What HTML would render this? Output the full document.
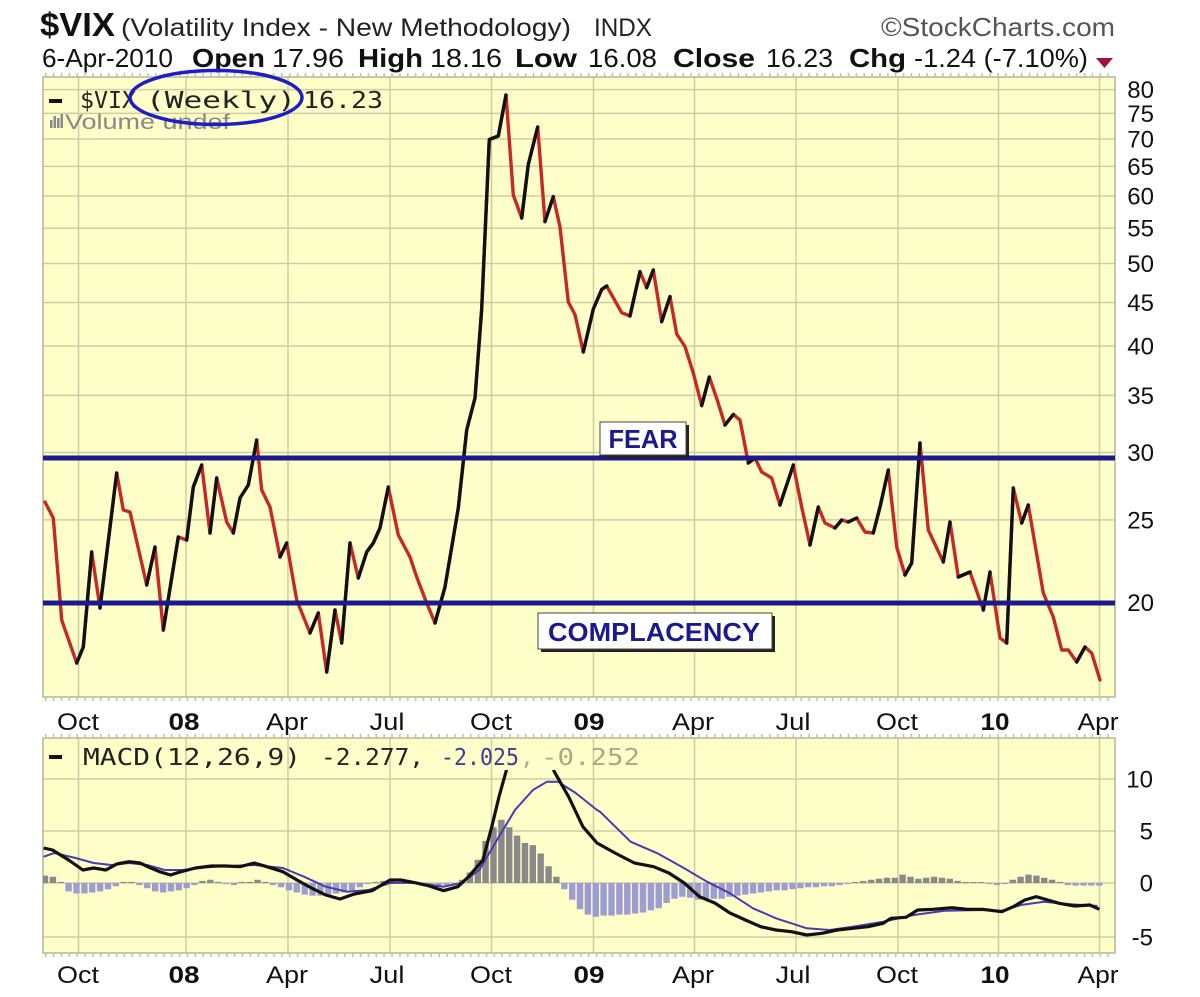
<!DOCTYPE html>
<html>
<head>
<meta charset="utf-8">
<style>
html,body{margin:0;padding:0;background:#fff;}
svg{display:block;}
text{font-family:"Liberation Sans",Arial,sans-serif;}
.mono{font-family:"DejaVu Sans Mono","Liberation Mono",monospace;}
</style>
</head>
<body>
<svg width="1200" height="997" viewBox="0 0 1200 997" xmlns="http://www.w3.org/2000/svg">
<rect x="0" y="0" width="1200" height="997" fill="#ffffff"/>

<!-- Header -->
<text x="40" y="36" font-size="33" font-weight="bold" fill="#111" textLength="75" lengthAdjust="spacingAndGlyphs">$VIX</text>
<text x="121" y="36" font-size="25" fill="#222" textLength="450" lengthAdjust="spacingAndGlyphs">(Volatility Index - New Methodology)</text>
<text x="594" y="36" font-size="25" fill="#222" textLength="58" lengthAdjust="spacingAndGlyphs">INDX</text>
<text x="881" y="36" font-size="26" fill="#555" textLength="234" lengthAdjust="spacingAndGlyphs">©StockCharts.com</text>

<g font-size="26" fill="#111">
<text x="42" y="67" textLength="131" lengthAdjust="spacingAndGlyphs">6-Apr-2010</text>
<text x="192" y="67" font-weight="bold" textLength="73" lengthAdjust="spacingAndGlyphs">Open</text>
<text x="272" y="67" textLength="72" lengthAdjust="spacingAndGlyphs">17.96</text>
<text x="358" y="67" font-weight="bold" textLength="65" lengthAdjust="spacingAndGlyphs">High</text>
<text x="430" y="67" textLength="72" lengthAdjust="spacingAndGlyphs">18.16</text>
<text x="515" y="67" font-weight="bold" textLength="62" lengthAdjust="spacingAndGlyphs">Low</text>
<text x="588" y="67" textLength="69" lengthAdjust="spacingAndGlyphs">16.08</text>
<text x="673" y="67" font-weight="bold" textLength="82" lengthAdjust="spacingAndGlyphs">Close</text>
<text x="766" y="67" textLength="67" lengthAdjust="spacingAndGlyphs">16.23</text>
<text x="849" y="67" font-weight="bold" textLength="57" lengthAdjust="spacingAndGlyphs">Chg</text>
<text x="914" y="67" textLength="174" lengthAdjust="spacingAndGlyphs">-1.24 (-7.10%)</text>
</g>
<polygon points="1096,58 1113,58 1104.5,68" fill="#a0103a"/>

<!-- Main panel -->
<rect x="43" y="77" width="1072" height="620" fill="#fefec8"/>
<g stroke="#cdcda4" stroke-width="1.5">
<line x1="43" x2="1115" y1="89.6" y2="89.6"/>
<line x1="43" x2="1115" y1="113.4" y2="113.4"/>
<line x1="43" x2="1115" y1="139" y2="139"/>
<line x1="43" x2="1115" y1="166.4" y2="166.4"/>
<line x1="43" x2="1115" y1="196" y2="196"/>
<line x1="43" x2="1115" y1="228.2" y2="228.2"/>
<line x1="43" x2="1115" y1="263.5" y2="263.5"/>
<line x1="43" x2="1115" y1="302.5" y2="302.5"/>
<line x1="43" x2="1115" y1="346" y2="346"/>
<line x1="43" x2="1115" y1="395.4" y2="395.4"/>
<line x1="43" x2="1115" y1="452.5" y2="452.5"/>
<line x1="43" x2="1115" y1="519.9" y2="519.9"/>
<line x1="43" x2="1115" y1="602.5" y2="602.5"/>
<line y1="77" y2="697" x1="78.5" x2="78.5"/>
<line y1="77" y2="697" x1="186" x2="186"/>
<line y1="77" y2="697" x1="288" x2="288"/>
<line y1="77" y2="697" x1="390" x2="390"/>
<line y1="77" y2="697" x1="491.5" x2="491.5"/>
<line y1="77" y2="697" x1="593.5" x2="593.5"/>
<line y1="77" y2="697" x1="694.5" x2="694.5"/>
<line y1="77" y2="697" x1="796" x2="796"/>
<line y1="77" y2="697" x1="898" x2="898"/>
<line y1="77" y2="697" x1="998.5" x2="998.5"/>
<line y1="77" y2="697" x1="1099.5" x2="1099.5"/>
</g>
<rect x="43" y="77" width="1072" height="620" fill="none" stroke="#b5b595" stroke-width="1.5"/>
<g stroke="#c2c2a2" stroke-width="4" stroke-dasharray="1.5,6.37">
<line x1="45" x2="1115" y1="699" y2="699"/>
<line x1="45" x2="1115" y1="75" y2="75"/>
</g>

<!-- VIX series -->
<g fill="none" stroke-width="3.4" stroke-linejoin="round" stroke-linecap="round">
<polyline stroke="#c62828" points="45,502 53.3,518 61.7,620 76.7,663 83.3,647 91.7,552 100,608 116.7,473 123.3,510 130,512 146.7,585 155,547 163.3,630 178.3,537 186.7,540 193.3,487 201.7,465 210,533 216.7,478 226.7,522 233.3,533 240,498 248.3,485 256.7,440 261.7,490 270,507 280,557 286.7,543 296.7,600 310,633 318.3,613 326.7,672 335,610 341.7,643 350,543 358.3,578 366.7,552 373.3,543 380,528 388.3,487 398.3,535 410,557 416.7,577 426.7,603 435,623 445,587 458.3,508 466.7,430 475,398 481.7,309 489.3,139.5 498.3,136 506,95 513.3,195 521.7,218 528.3,164.5 537.7,127 545,221.6 553.3,196.6 560,227 568.3,302 575,314.5 583.3,352 593.3,309 601.7,289.5 606.7,286 621.7,312.7 630,316 640,271.6 646.7,287.7 653.3,270 661.7,321.6 670,296.6 676.7,334 685,346.6 693.3,373 701.7,405.6 709.3,377 716.7,398.4 725,425 733.3,414.5 740,420 748.3,463 755,458 761.7,472 771.7,478 780,505 793.3,465 801.7,507 810,545 818.3,507 825,523 835,528 841.7,520 848.3,522 856.7,518 865,532 873.3,533 880,507 888.3,470 896.7,547 905,575 911.7,563 920,443 928.3,530 943.3,562 950,522 958.3,577 970,572 983.3,610 990,572 1000,638 1006.7,643 1013.3,488 1021.7,523 1028.3,505 1043.3,593 1053.3,617 1061.7,650 1068.3,650 1076.7,662 1085,647 1091.7,653 1100,680"/>
<g stroke="#111">
<polyline points="76.7,663 83.3,647 91.7,552"/>
<polyline points="100,608 116.7,473"/>
<polyline points="146.7,585 155,547"/>
<polyline points="163.3,630 178.3,537"/>
<polyline points="186.7,540 193.3,487 201.7,465"/>
<polyline points="210,533 216.7,478"/>
<polyline points="233.3,533 240,498 248.3,485 256.7,440"/>
<polyline points="280,557 286.7,543"/>
<polyline points="310,633 318.3,613"/>
<polyline points="326.7,672 335,610"/>
<polyline points="341.7,643 350,543"/>
<polyline points="358.3,578 366.7,552 373.3,543 380,528 388.3,487"/>
<polyline points="435,623 445,587 458.3,508 466.7,430 475,398 481.7,309 489.3,139.5 498.3,136 506,95"/>
<polyline points="521.7,218 528.3,164.5 537.7,127"/>
<polyline points="545,221.6 553.3,196.6"/>
<polyline points="583.3,352 593.3,309 601.7,289.5 606.7,286"/>
<polyline points="630,316 640,271.6"/>
<polyline points="646.7,287.7 653.3,270"/>
<polyline points="661.7,321.6 670,296.6"/>
<polyline points="701.7,405.6 709.3,377"/>
<polyline points="725,425 733.3,414.5"/>
<polyline points="748.3,463 755,458"/>
<polyline points="780,505 793.3,465"/>
<polyline points="810,545 818.3,507"/>
<polyline points="835,528 841.7,520"/>
<polyline points="848.3,522 856.7,518"/>
<polyline points="873.3,533 880,507 888.3,470"/>
<polyline points="905,575 911.7,563 920,443"/>
<polyline points="943.3,562 950,522"/>
<polyline points="958.3,577 970,572"/>
<polyline points="983.3,610 990,572"/>
<polyline points="1006.7,643 1013.3,488"/>
<polyline points="1021.7,523 1028.3,505"/>
<polyline points="1076.7,662 1085,647"/>
</g>
</g>

<!-- FEAR / COMPLACENCY lines -->
<line x1="43" x2="1115" y1="458" y2="458" stroke="#1a1a8e" stroke-width="5"/>
<line x1="43" x2="1115" y1="603" y2="603" stroke="#1a1a8e" stroke-width="5"/>

<rect x="603" y="425" width="86" height="33" fill="#222"/>
<rect x="600" y="422" width="86" height="33" fill="#fff" stroke="#444" stroke-width="1"/>
<text x="643" y="448" font-size="26" font-weight="bold" fill="#1a1a8c" text-anchor="middle" textLength="69" lengthAdjust="spacingAndGlyphs">FEAR</text>

<rect x="541" y="616" width="234" height="36" fill="#222"/>
<rect x="538" y="613" width="234" height="36" fill="#fff" stroke="#444" stroke-width="1"/>
<text x="654" y="641" font-size="26" font-weight="bold" fill="#1a1a8c" text-anchor="middle" textLength="212" lengthAdjust="spacingAndGlyphs">COMPLACENCY</text>

<!-- Main legend -->
<rect x="49" y="99" width="13" height="4" fill="#111"/>
<g class="mono" font-size="23" fill="#222">
<text class="mono" x="80" y="108" textLength="56" lengthAdjust="spacingAndGlyphs">$VIX</text>
<text class="mono" x="146" y="108" textLength="150" lengthAdjust="spacingAndGlyphs">(Weekly)</text>
<text class="mono" x="303" y="108" textLength="80" lengthAdjust="spacingAndGlyphs">16.23</text>
</g>
<g fill="#8a8a8a">
<rect x="50" y="120" width="2.5" height="8"/>
<rect x="53.5" y="116" width="2.5" height="12"/>
<rect x="57" y="118" width="2.5" height="10"/>
<rect x="60.5" y="114" width="2.5" height="14"/>
</g>
<text x="65" y="129" font-size="21" fill="#888" textLength="165" lengthAdjust="spacingAndGlyphs">Volume undef</text>
<ellipse cx="216" cy="97.5" rx="86" ry="27" fill="none" stroke="#1e1ec8" stroke-width="3.5"/>

<!-- Main right axis labels -->
<g font-size="24" fill="#111" text-anchor="end">
<text x="1154" y="98">80</text>
<text x="1154" y="122">75</text>
<text x="1154" y="147.5">70</text>
<text x="1154" y="175">65</text>
<text x="1154" y="204.5">60</text>
<text x="1154" y="236.7">55</text>
<text x="1154" y="272">50</text>
<text x="1154" y="311">45</text>
<text x="1154" y="354.5">40</text>
<text x="1154" y="404">35</text>
<text x="1154" y="461">30</text>
<text x="1154" y="528.4">25</text>
<text x="1154" y="611">20</text>
</g>

<!-- Main x labels -->
<g font-size="24" fill="#111" text-anchor="middle">
<text x="78" y="730" textLength="42" lengthAdjust="spacingAndGlyphs">Oct</text>
<text x="184" y="730" font-weight="bold" textLength="31" lengthAdjust="spacingAndGlyphs">08</text>
<text x="287" y="730" textLength="42" lengthAdjust="spacingAndGlyphs">Apr</text>
<text x="387" y="730" textLength="35" lengthAdjust="spacingAndGlyphs">Jul</text>
<text x="491" y="730" textLength="42" lengthAdjust="spacingAndGlyphs">Oct</text>
<text x="589" y="730" font-weight="bold" textLength="31" lengthAdjust="spacingAndGlyphs">09</text>
<text x="693" y="730" textLength="42" lengthAdjust="spacingAndGlyphs">Apr</text>
<text x="793" y="730" textLength="35" lengthAdjust="spacingAndGlyphs">Jul</text>
<text x="897" y="730" textLength="42" lengthAdjust="spacingAndGlyphs">Oct</text>
<text x="995" y="730" font-weight="bold" textLength="29" lengthAdjust="spacingAndGlyphs">10</text>
<text x="1098" y="730" textLength="41" lengthAdjust="spacingAndGlyphs">Apr</text>
</g>

<!-- MACD panel -->
<rect x="43" y="738" width="1072" height="215" fill="#fefec8"/>
<g stroke="#cdcda4" stroke-width="1.5">
<line x1="43" x2="1115" y1="779" y2="779"/>
<line x1="43" x2="1115" y1="831" y2="831"/>
<line x1="43" x2="1115" y1="883" y2="883"/>
<line x1="43" x2="1115" y1="937" y2="937"/>
<line y1="738" y2="953" x1="78.5" x2="78.5"/>
<line y1="738" y2="953" x1="186" x2="186"/>
<line y1="738" y2="953" x1="288" x2="288"/>
<line y1="738" y2="953" x1="390" x2="390"/>
<line y1="738" y2="953" x1="491.5" x2="491.5"/>
<line y1="738" y2="953" x1="593.5" x2="593.5"/>
<line y1="738" y2="953" x1="694.5" x2="694.5"/>
<line y1="738" y2="953" x1="796" x2="796"/>
<line y1="738" y2="953" x1="898" x2="898"/>
<line y1="738" y2="953" x1="998.5" x2="998.5"/>
<line y1="738" y2="953" x1="1099.5" x2="1099.5"/>
</g>
<rect x="43" y="738" width="1072" height="215" fill="none" stroke="#b5b595" stroke-width="1.5"/>
<g stroke="#c2c2a2" stroke-width="4" stroke-dasharray="1.5,6.37">
<line x1="45" x2="1115" y1="736" y2="736"/>
<line x1="45" x2="1115" y1="955" y2="955"/>
</g>

<defs><clipPath id="mc"><rect x="43" y="770" width="1072" height="183"/></clipPath>
<clipPath id="mp"><rect x="43" y="738" width="1072" height="215"/></clipPath></defs>

<g clip-path="url(#mp)">
<path fill="#8a8a8a" d="M41.8 883v-7.4h6.4v7.4zM49.7 883v-6.3h6.4v6.3zM57.5 883v-1.1h6.4v1.1zM120.5 883v-1.1h6.4v1.1zM128.4 883v-1.1h6.4v1.1zM199.2 883v-2.1h6.4v2.1zM207.1 883v-3.2h6.4v3.2zM214.9 883v-1.1h6.4v1.1zM238.5 883v-1.1h6.4v1.1zM246.4 883v-1.1h6.4v1.1zM254.3 883v-3.2h6.4v3.2zM262.1 883v-1.1h6.4v1.1zM372.3 883v-1.1h6.4v1.1zM380.2 883v-2.1h6.4v2.1zM388 883v-2.1h6.4v2.1zM395.9 883v-1.1h6.4v1.1zM458.8 883v-3.2h6.4v3.2zM466.7 883v-10.5h6.4v10.5zM474.6 883v-23.2h6.4v23.2zM482.4 883v-42.1h6.4v42.1zM490.3 883v-55.8h6.4v55.8zM498.2 883v-63.2h6.4v63.2zM506 883v-55.8h6.4v55.8zM513.9 883v-47.4h6.4v47.4zM521.8 883v-40h6.4v40zM529.6 883v-37.9h6.4v37.9zM537.5 883v-29.5h6.4v29.5zM545.4 883v-16.8h6.4v16.8zM553.2 883v-6.3h6.4v6.3zM852.2 883v-1.1h6.4v1.1zM860.1 883v-2.1h6.4v2.1zM868 883v-3.2h6.4v3.2zM875.8 883v-4.2h6.4v4.2zM883.7 883v-5.3h6.4v5.3zM891.6 883v-5.3h6.4v5.3zM899.4 883v-8.4h6.4v8.4zM907.3 883v-6.3h6.4v6.3zM915.2 883v-4.2h6.4v4.2zM923 883v-5.3h6.4v5.3zM930.9 883v-6.3h6.4v6.3zM938.8 883v-5.3h6.4v5.3zM946.6 883v-4.2h6.4v4.2zM954.5 883v-2.1h6.4v2.1zM962.4 883v-1.1h6.4v1.1zM970.2 883v-1h6.4v1zM978.1 883v-1h6.4v1zM1009.6 883v-3.2h6.4v3.2zM1017.4 883v-6.3h6.4v6.3zM1025.3 883v-8.4h6.4v8.4zM1033.2 883v-7.4h6.4v7.4zM1041 883v-5.3h6.4v5.3zM1048.9 883v-3.2h6.4v3.2zM1056.8 883v-1.1h6.4v1.1z"/>
<path fill="#9d9dd3" d="M65.4 883v8.4h6.4v-8.4zM73.3 883v10.5h6.4v-10.5zM81.2 883v10.5h6.4v-10.5zM89 883v9.5h6.4v-9.5zM96.9 883v8.4h6.4v-8.4zM104.8 883v6.3h6.4v-6.3zM112.6 883v3.2h6.4v-3.2zM136.2 883v2.1h6.4v-2.1zM144.1 883v5.3h6.4v-5.3zM152 883v8.4h6.4v-8.4zM159.9 883v9.5h6.4v-9.5zM167.7 883v8.4h6.4v-8.4zM175.6 883v7.4h6.4v-7.4zM183.5 883v5.3h6.4v-5.3zM191.3 883v2.1h6.4v-2.1zM222.8 883v1.1h6.4v-1.1zM230.7 883v2.1h6.4v-2.1zM270 883v2.1h6.4v-2.1zM277.9 883v4.2h6.4v-4.2zM285.8 883v7.4h6.4v-7.4zM293.6 883v9.5h6.4v-9.5zM301.5 883v11.6h6.4v-11.6zM309.4 883v12.6h6.4v-12.6zM317.2 883v12.6h6.4v-12.6zM325.1 883v11.6h6.4v-11.6zM333 883v10.5h6.4v-10.5zM340.8 883v9.5h6.4v-9.5zM348.7 883v7.4h6.4v-7.4zM356.6 883v4.2h6.4v-4.2zM364.4 883v1.1h6.4v-1.1zM411.6 883v1.1h6.4v-1.1zM419.5 883v2.1h6.4v-2.1zM427.4 883v3.2h6.4v-3.2zM435.2 883v3.2h6.4v-3.2zM443.1 883v2.1h6.4v-2.1zM451 883v1.1h6.4v-1.1zM561.1 883v6.3h6.4v-6.3zM569 883v16.8h6.4v-16.8zM576.8 883v26.3h6.4v-26.3zM584.7 883v31.6h6.4v-31.6zM592.6 883v33.7h6.4v-33.7zM600.4 883v32.6h6.4v-32.6zM608.3 883v32.6h6.4v-32.6zM616.2 883v31.6h6.4v-31.6zM624.1 883v31.6h6.4v-31.6zM631.9 883v30.5h6.4v-30.5zM639.8 883v29.5h6.4v-29.5zM647.7 883v27.4h6.4v-27.4zM655.5 883v25.3h6.4v-25.3zM663.4 883v20h6.4v-20zM671.3 883v15.8h6.4v-15.8zM679.1 883v13.7h6.4v-13.7zM687 883v14.7h6.4v-14.7zM694.9 883v16.8h6.4v-16.8zM702.7 883v16.8h6.4v-16.8zM710.6 883v15.8h6.4v-15.8zM718.5 883v15.8h6.4v-15.8zM726.3 883v13.7h6.4v-13.7zM734.2 883v12.6h6.4v-12.6zM742.1 883v11.6h6.4v-11.6zM749.9 883v10.5h6.4v-10.5zM757.8 883v9.5h6.4v-9.5zM765.7 883v8.4h6.4v-8.4zM773.5 883v7.4h6.4v-7.4zM781.4 883v7.4h6.4v-7.4zM789.3 883v6.3h6.4v-6.3zM797.2 883v5.3h6.4v-5.3zM805 883v4.2h6.4v-4.2zM812.9 883v4.2h6.4v-4.2zM820.8 883v3.2h6.4v-3.2zM828.6 883v3.2h6.4v-3.2zM836.5 883v2.1h6.4v-2.1zM844.4 883v1.1h6.4v-1.1zM986 883v1.1h6.4v-1.1zM993.8 883v2.1h6.4v-2.1zM1001.7 883v1.1h6.4v-1.1zM1064.6 883v2.1h6.4v-2.1zM1072.5 883v2.6h6.4v-2.6zM1080.4 883v2.6h6.4v-2.6zM1088.2 883v2.6h6.4v-2.6zM1096.1 883v2.6h6.4v-2.6z"/>

<polyline fill="none" stroke="#4a3ab0" stroke-width="2" stroke-linejoin="round" points="43.6,856.7 54.3,853 75.7,858 93.6,863 111.4,865 129.3,863 147,865 165,870 183,870 200.7,867.7 225.7,866 254.3,865 283,868 304,876.7 325.7,886.7 347,891.7 368.6,890 390,883 415,882.7 443.6,886.7 461.4,883 479.3,870 497,840 515,810 532.9,790 547,781.7 557.9,781.7 575.7,793 597,810 600,811.7 615.3,826.7 630.6,841.7 657.4,853.3 684.2,868.3 707,881.7 730,893.3 753,908.3 776,918.3 806.7,928.3 829.6,930 852.6,926.7 883.2,921.7 913.8,915 944.4,910.7 982.7,910 1001.8,910.7 1021,905 1044,901.7 1067,904 1097.5,906"/>
</g>
<polyline clip-path="url(#mc)" fill="none" stroke="#111" stroke-width="3.2" stroke-linejoin="round" points="43.6,848 52.5,850 68.6,860 82.9,870 93.6,868 106,870 116.8,864 129.3,861.7 140,863 150.7,868 159.6,871.7 170.4,875 181,871.7 195.4,868 211.4,866 225.7,866 240,866.7 254.3,863 266.8,866.7 282.9,871.7 297,880 311.4,888 325.7,895 340,899 354.3,894 372,890.7 390,880 400.7,880 415,882.7 429.3,886 443.6,890.7 457.9,886.7 468.6,876.7 482.9,860 491.8,826.7 499,796.7 506,771.7 512,750 522,735 535,732 546,748 554.3,771.7 568.6,796.7 582.9,826.7 597,843 615,853 634.4,863 653.6,866.7 668.9,873 684.2,883 699.5,896.7 714.8,903 730,913 745.4,920 760.7,926.7 776,930 791.4,931.7 806.7,935 822,933.3 837.3,930 852.6,928.3 868,926.7 883.2,923.3 890.9,918.3 906,917.3 917.6,910 933,909.3 952,907.7 967.4,909.3 982.7,909.3 1001.8,911.7 1013.3,906.7 1024.8,900 1036.3,896.7 1047.8,900 1059.2,903.3 1074.6,906 1089.9,905 1099.4,909.3"/>

<!-- MACD legend -->
<rect x="49" y="755" width="13" height="4" fill="#111"/>
<g font-size="23">
<text class="mono" x="83" y="765" fill="#222" textLength="218" lengthAdjust="spacingAndGlyphs">MACD(12,26,9)</text>
<text class="mono" x="321" y="765" fill="#222" textLength="103" lengthAdjust="spacingAndGlyphs">-2.277,</text>
<text class="mono" x="441" y="765" fill="#3d3d99" textLength="78" lengthAdjust="spacingAndGlyphs">-2.025</text>
<text class="mono" x="520" y="765" fill="#aaa">,</text>
<text class="mono" x="541" y="765" fill="#a9a98a" textLength="99" lengthAdjust="spacingAndGlyphs">-0.252</text>
</g>

<!-- MACD right labels -->
<g font-size="24" fill="#111" text-anchor="end">
<text x="1153" y="787.5">10</text>
<text x="1153" y="839.5">5</text>
<text x="1153" y="891.5">0</text>
<text x="1153" y="945.5">-5</text>
</g>

<!-- MACD x labels -->
<g font-size="24" fill="#111" text-anchor="middle">
<text x="78" y="983" textLength="42" lengthAdjust="spacingAndGlyphs">Oct</text>
<text x="184" y="983" font-weight="bold" textLength="31" lengthAdjust="spacingAndGlyphs">08</text>
<text x="287" y="983" textLength="42" lengthAdjust="spacingAndGlyphs">Apr</text>
<text x="387" y="983" textLength="35" lengthAdjust="spacingAndGlyphs">Jul</text>
<text x="491" y="983" textLength="42" lengthAdjust="spacingAndGlyphs">Oct</text>
<text x="589" y="983" font-weight="bold" textLength="31" lengthAdjust="spacingAndGlyphs">09</text>
<text x="693" y="983" textLength="42" lengthAdjust="spacingAndGlyphs">Apr</text>
<text x="793" y="983" textLength="35" lengthAdjust="spacingAndGlyphs">Jul</text>
<text x="897" y="983" textLength="42" lengthAdjust="spacingAndGlyphs">Oct</text>
<text x="995" y="983" font-weight="bold" textLength="29" lengthAdjust="spacingAndGlyphs">10</text>
<text x="1098" y="983" textLength="41" lengthAdjust="spacingAndGlyphs">Apr</text>
</g>
</svg>
</body>
</html>
